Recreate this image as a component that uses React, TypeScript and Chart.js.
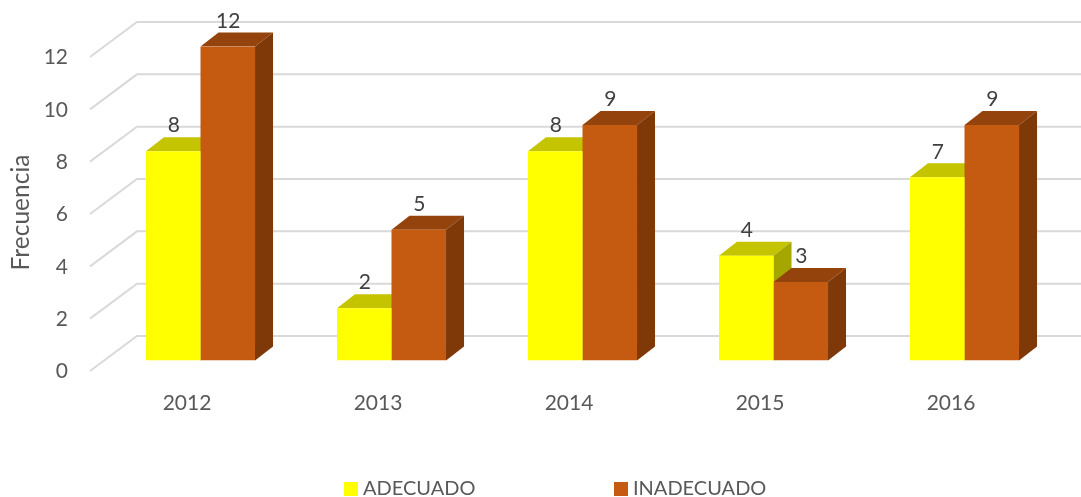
import { useEffect, useRef } from "react";
import { Chart, registerables } from "chart.js";

Chart.register(...registerables);

const categories = ["2012", "2013", "2014", "2015", "2016"];
const adecuado = [8, 2, 8, 4, 7];
const inadecuado = [12, 5, 9, 3, 9];
const seriesNames = ["ADECUADO", "INADECUADO"];
const frontColors = ["#FFFF00", "#C55A11"];
const topColors = ["#C4C400", "#95430D"];
const sideColors = ["#A6A600", "#7F3909"];
const axisTitle = "Frecuencia";

const FONT = "Lato, 'Open Sans', sans-serif";
const DX = 18;
const DY = 14;

const plugin3d = {
  id: "plugin3d",
  beforeDatasetsDraw(chart: any) {
    const { ctx, scales } = chart;
    const y = scales.y;
    ctx.save();
    ctx.strokeStyle = "#D9D9D9";
    ctx.lineWidth = 2;
    y.ticks.forEach((t: any) => {
      const py = y.getPixelForValue(t.value);
      ctx.beginPath();
      ctx.moveTo(90, py + 10.5);
      ctx.lineTo(137, py - 24.5);
      ctx.lineTo(1081, py - 24.5);
      ctx.stroke();
    });
    chart.data.datasets.forEach((_: any, di: number) => {
      chart.getDatasetMeta(di).data.forEach((bar: any) => {
        const l = bar.x - bar.width / 2;
        const r = bar.x + bar.width / 2;
        const top = bar.y;
        const base = bar.base;
        ctx.fillStyle = topColors[di];
        ctx.beginPath();
        ctx.moveTo(l, top);
        ctx.lineTo(l + DX, top - DY);
        ctx.lineTo(r + DX, top - DY);
        ctx.lineTo(r, top);
        ctx.closePath();
        ctx.fill();
        ctx.fillStyle = sideColors[di];
        ctx.beginPath();
        ctx.moveTo(r, top);
        ctx.lineTo(r + DX, top - DY);
        ctx.lineTo(r + DX, base - DY);
        ctx.lineTo(r, base);
        ctx.closePath();
        ctx.fill();
      });
    });
    ctx.restore();
  },
  afterDatasetsDraw(chart: any) {
    const { ctx } = chart;
    ctx.save();
    ctx.textAlign = "center";
    ctx.textBaseline = "middle";
    ctx.font = `21px ${FONT}`;
    ctx.fillStyle = "#404040";
    chart.data.datasets.forEach((ds: any, di: number) => {
      chart.getDatasetMeta(di).data.forEach((bar: any, i: number) => {
        ctx.fillText(String(ds.data[i]), bar.x + 0.5, bar.y - 25.5);
      });
    });

    ctx.fillStyle = "#595959";
    ctx.save();
    ctx.translate(21, 212.5);
    ctx.rotate(-Math.PI / 2);
    ctx.font = `24.5px ${FONT}`;
    ctx.fillText(axisTitle, 0, 0);
    ctx.restore();

    ctx.textAlign = "left";
    ctx.font = `20px ${FONT}`;
    const legendX = [344, 614];
    seriesNames.forEach((name, i) => {
      ctx.fillStyle = frontColors[i];
      ctx.fillRect(legendX[i], 482, 14, 14);
      ctx.fillStyle = "#595959";
      ctx.fillText(name, legendX[i] + 19, 489);
    });
    ctx.restore();
  },
};

export default function App() {
  const ref = useRef<HTMLCanvasElement>(null);
  useEffect(() => {
    const chart = new Chart(ref.current!, {
      type: "bar",
      data: {
        labels: categories,
        datasets: [
          { label: seriesNames[0], data: adecuado, backgroundColor: frontColors[0], categoryPercentage: 0.571, barPercentage: 1 },
          { label: seriesNames[1], data: inadecuado, backgroundColor: frontColors[1], categoryPercentage: 0.571, barPercentage: 1 },
        ],
      },
      options: {
        responsive: false,
        animation: false,
        layout: { autoPadding: false, padding: { top: 46.5, right: 21, left: 0, bottom: 0 } },
        plugins: { legend: { display: false }, title: { display: false }, tooltip: { enabled: false } },
        scales: {
          x: {
            afterFit: (s: any) => { s.height = 136.5; },
            grid: { display: false },
            border: { display: false },
            ticks: {
              color: "#595959",
              font: { family: FONT, size: 21 },
              padding: 22,
              labelOffset: -13.5,
              maxRotation: 0,
            },
          },
          y: {
            min: 0,
            max: 12,
            afterFit: (s: any) => { s.width = 105; },
            grid: { display: false },
            border: { display: false },
            ticks: {
              stepSize: 2,
              color: "#595959",
              font: { family: FONT, size: 21 },
              padding: 29,
              labelOffset: 11,
            },
          },
        },
      } as any,
      plugins: [plugin3d],
    });
    return () => chart.destroy();
  }, []);
  return (
    <canvas
      ref={ref}
      width={1081}
      height={497}
      style={{ position: "absolute", left: 0, top: 0, display: "block" }}
    />
  );
}
